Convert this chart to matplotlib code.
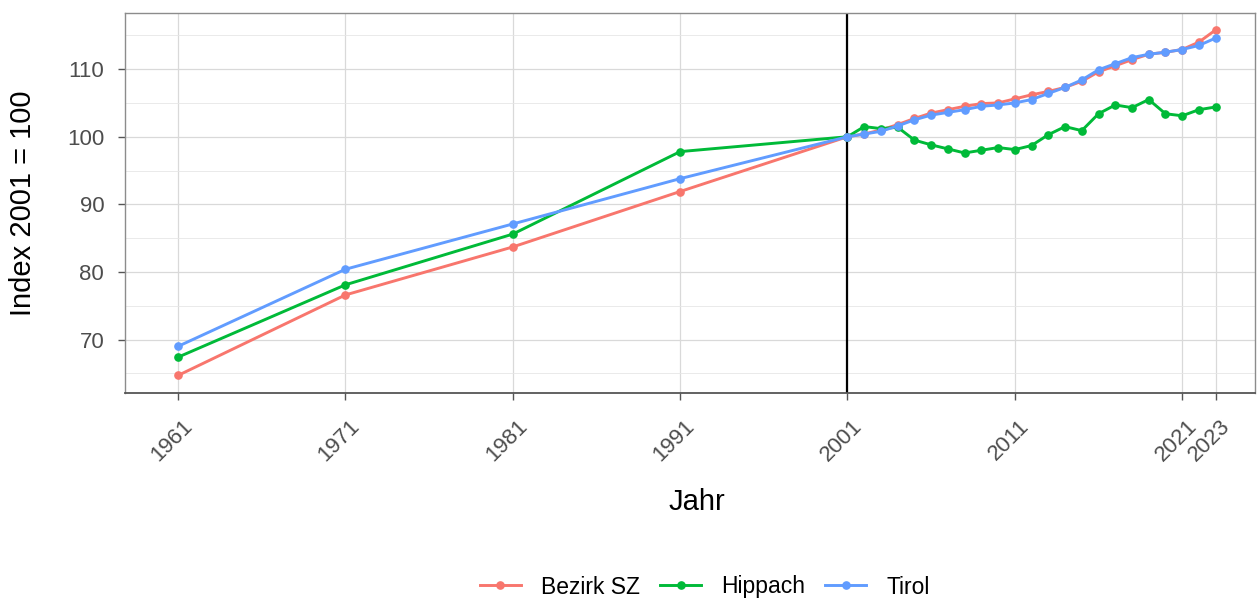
import matplotlib
matplotlib.use("Agg")
import matplotlib.pyplot as plt
import matplotlib.transforms as mtransforms
from matplotlib.ticker import FixedLocator

years_early = [1961, 1971, 1981, 1991]
years_late = list(range(2001, 2024))
years = years_early + years_late

bezirk = [64.7, 76.6, 83.7, 91.9,
          100.0, 100.4, 101.0, 101.8, 102.7, 103.5, 104.0, 104.5, 104.9, 105.0,
          105.6, 106.2, 106.7, 107.3, 108.2, 109.6, 110.5, 111.4, 112.2, 112.5,
          112.9, 114.0, 115.8]
hippach = [67.4, 78.1, 85.6, 97.8,
           100.0, 101.5, 101.2, 101.4, 99.5, 98.8, 98.2, 97.6, 98.0, 98.4,
           98.1, 98.7, 100.3, 101.5, 100.9, 103.4, 104.7, 104.3, 105.5, 103.4,
           103.1, 104.0, 104.4]
tirol = [69.0, 80.4, 87.1, 93.8,
         100.0, 100.4, 100.8, 101.6, 102.5, 103.2, 103.6, 104.0, 104.5, 104.7,
         105.0, 105.5, 106.4, 107.3, 108.4, 109.9, 110.8, 111.7, 112.2, 112.5,
         112.9, 113.5, 114.6]

series = ["Bezirk SZ", "Hippach", "Tirol"]
colors = ["#F8766D", "#00BA38", "#619CFF"]
x_breaks = [1961, 1971, 1981, 1991, 2001, 2011, 2021, 2023]
y_breaks = [70, 80, 90, 100, 110]
y_minor = [65, 75, 85, 95, 105, 115]

plt.rcParams['font.family'] = ['Liberation Sans', 'DejaVu Sans']

fig = plt.figure(figsize=(12.57, 5.98), dpi=100)
ax = fig.add_axes([125/1257, 1-393/598, (1255-125)/1257, (393-13)/598])

ax.set_xlim(1957.83, 2025.35)
ax.set_ylim(62.1, 118.3)

ax.xaxis.set_major_locator(FixedLocator(x_breaks))
ax.yaxis.set_major_locator(FixedLocator(y_breaks))
ax.yaxis.set_minor_locator(FixedLocator(y_minor))
ax.grid(which='major', color='#D9D9D9', linewidth=0.9)
ax.grid(which='minor', axis='y', color='#E6E6E6', linewidth=0.6)
ax.set_axisbelow(True)

ax.axvline(2001, color='black', linewidth=1.6, zorder=2)

for name, vals, c in zip(series, [bezirk, hippach, tirol], colors):
    ax.plot(years, vals, color=c, linewidth=2.1, marker='o', markersize=5.2,
            label=name, zorder=3)

for s in ax.spines.values():
    s.set_color('#8C8C8C')
    s.set_linewidth(1.0)
ax.spines['bottom'].set_color('#555555')
ax.spines['bottom'].set_linewidth(1.3)

ax.tick_params(axis='both', which='major', colors='#555555', labelcolor='#4D4D4D',
               labelsize=16, length=5, width=1)
ax.tick_params(axis='y', which='major', pad=10)
ax.tick_params(axis='x', which='major', pad=11)
ax.tick_params(axis='y', which='minor', length=0)
ax.set_xticklabels([str(y) for y in x_breaks], rotation=45, ha='right',
                   va='top', rotation_mode='anchor')
offset = mtransforms.ScaledTranslation(4/100, 0, fig.dpi_scale_trans)
for lab in ax.get_xticklabels():
    lab.set_transform(lab.get_transform() + offset)

ax.set_xlabel('Jahr', fontsize=21, va='baseline')
ax.xaxis.set_label_coords(0.506, -(510-393)/380)
ax.set_ylabel('Index 2001 = 100', fontsize=21)
ax.yaxis.set_label_coords((37-125)/1130, 0.5)

fig.legend(loc='center', bbox_to_anchor=(705/1257, 1-587/598), ncol=3,
           frameon=False, fontsize=16.5, handlelength=1.78, columnspacing=0.87,
           handletextpad=0.9)

fig.savefig('out.png', dpi=100)
